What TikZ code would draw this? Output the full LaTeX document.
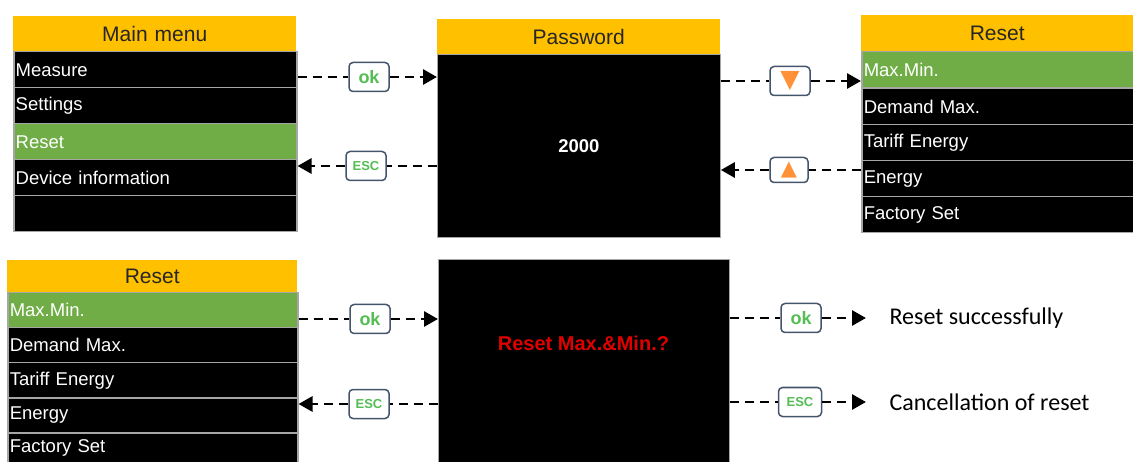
\documentclass[tikz,border=0pt]{standalone}
\usepackage{fontspec}
\setmainfont{Liberation Sans}
\newfontfamily\notefont{Carlito}
\newfontfamily\symbfont{DejaVu Sans}
\definecolor{titleorange}{RGB}{255, 192, 0}
\definecolor{titletext}{RGB}{38, 38, 38}
\definecolor{selgreen}{RGB}{112, 173, 71}
\definecolor{rowgray}{RGB}{166, 166, 166}
\definecolor{keygreen}{RGB}{84, 190, 84}
\definecolor{keyframe}{RGB}{68, 84, 106}
\definecolor{keyorange}{RGB}{255, 146, 56}
\definecolor{alarmred}{RGB}{225, 0, 0}
\usepackage{tikz}
\usetikzlibrary{arrows.meta, positioning, calc}

\begin{document}
\begin{tikzpicture}[x=1pt, y=-1pt,
    headbar/.style={anchor=north west, fill=titleorange, inner sep=0pt, minimum height=35pt,
                    text width=#1, align=center, text=titletext, font=\fontsize{21}{24}\selectfont},
    menurow/.style={anchor=north west, fill=black, draw=rowgray, line width=1.5pt, inner xsep=2pt,
                    inner ysep=0pt, minimum height=36pt, text width=#1, align=left, text=white,
                    font=\fontsize{18.5}{20}\selectfont},
    selrow/.style={menurow=#1, fill=selgreen},
    screen/.style={anchor=north west, fill=black, draw=rowgray, line width=0.8pt, inner sep=0pt},
    keybtn/.style={draw=keyframe, line width=1.5pt, rounded corners=4pt, fill=white, minimum width=40pt,
                   minimum height=29pt, inner sep=0pt, text=keygreen, font=\bfseries\fontsize{18}{18}\selectfont},
    esckey/.style={keybtn, font=\bfseries\fontsize{13}{13}\selectfont},
    flow/.style={dash pattern=on 9pt off 6pt, line width=2.8pt},
    flowtip/.style={flow, -{Triangle[length=14pt, width=15pt]}}]
    \useasboundingbox (0,0) rectangle (1133,462);

    % main menu
    \node[headbar=283pt] (mainhead) at (13,16) {Main menu};
    \node[menurow=279pt] (main1) at (13,51) {Measure};
    \node[menurow=279pt] (main2) at (13,87) {Settings};
    \node[selrow=279pt] (main3) at (13,123) {Reset};
    \node[menurow=279pt] (main4) at (13,159) {Device information};
    \node[menurow=279pt] (main5) at (13,195) {};

    % password
    \node[headbar=283pt] (pwhead) at (437,19) {Password};
    \node[screen, minimum width=283pt, minimum height=183pt, text=white,
          font=\bfseries\fontsize{18.5}{20}\selectfont] (pwbody) at (437,54) {2000};

    % reset menu, top right
    \node[headbar=272pt, minimum height=36pt] (rsthead) at (861,15) {Reset};
    \node[selrow=268pt] (rst1) at (861,51) {Max.Min.};
    \node[menurow=268pt] (rst2) at (861,88) {Demand Max.};
    \node[menurow=268pt] (rst3) at (861,124) {Tariff Energy};
    \node[menurow=268pt] (rst4) at (861,160) {Energy};
    \node[menurow=268pt] (rst5) at (861,196) {Factory Set};

    % reset menu, bottom left
    \node[headbar=290pt, minimum height=32pt] (bothead) at (7,260) {Reset};
    \node[selrow=286pt, minimum height=35pt] (bot1) at (7,292) {Max.Min.};
    \node[menurow=286pt, minimum height=35pt] (bot2) at (7,327) {Demand Max.};
    \node[menurow=286pt, minimum height=35pt] (bot3) at (7,362) {Tariff Energy};
    \node[menurow=286pt, minimum height=35pt] (bot4) at (7,397) {Energy};
    \node[menurow=286pt, minimum height=30pt] (bot5) at (7,432) {Factory Set};

    % confirm screen
    \node[screen, minimum width=291pt, minimum height=203pt] (confirm) at (438,259) {};
    \node[text=alarmred, font=\bfseries\fontsize{20}{22}\selectfont] (confirmtxt) at (583.5,343) {Reset Max.\&Min.?};

    % results
    \node[anchor=west, font=\notefont\fontsize{24}{26}\selectfont] (resok) at (886,318) {Reset successfully};
    \node[anchor=west, font=\notefont\fontsize{24}{26}\selectfont] (rescancel) at (886,402) {Cancellation of reset};

    % keys
    \node[keybtn] (okA) at (369,77) {ok};
    \node[esckey] (escA) at (366,166) {ESC};
    \node[keybtn, text=keyorange, font=\symbfont\fontsize{25}{25}\selectfont] (downB) at (790,81) {▼};
    \node[keybtn, minimum width=38pt, minimum height=25pt, text=keyorange,
          font=\symbfont\fontsize{21}{21}\selectfont] (upB) at (789,170) {▲};
    \node[keybtn] (okC) at (370,319) {ok};
    \node[esckey] (escC) at (369,404) {ESC};
    \node[keybtn] (okD) at (801,318) {ok};
    \node[esckey, minimum width=43pt] (escD) at (800,402) {ESC};

    % connectors
    \draw[flow] (main1.east |- okA.west) -- (okA.west);
    \draw[flowtip] (okA.east) -- (pwbody.west |- okA.east);
    \draw[flow] (pwbody.west |- escA.east) -- (escA.east);
    \draw[flowtip] (escA.west) -- (main4.east |- escA.west);

    \draw[flow] (pwbody.east |- downB.west) -- (downB.west);
    \draw[flowtip] (downB.east) -- (rst1.west |- downB.east);
    \draw[flow] (rst4.west |- upB.east) -- (upB.east);
    \draw[flowtip] (upB.west) -- (pwbody.east |- upB.west);

    \draw[flow] (bot1.east |- okC.west) -- (okC.west);
    \draw[flowtip] (okC.east) -- (confirm.west |- okC.east);
    \draw[flow] (confirm.west |- escC.east) -- (escC.east);
    \draw[flowtip] (escC.west) -- (bot4.east |- escC.west);

    \draw[flow] (confirm.east |- okD.west) -- (okD.west);
    \draw[flowtip, shorten >=20pt] (okD.east) -- (resok.west);
    \draw[flow] (confirm.east |- escD.west) -- (escD.west);
    \draw[flowtip, shorten >=20pt] (escD.east) -- (rescancel.west);
\end{tikzpicture}
\end{document}
